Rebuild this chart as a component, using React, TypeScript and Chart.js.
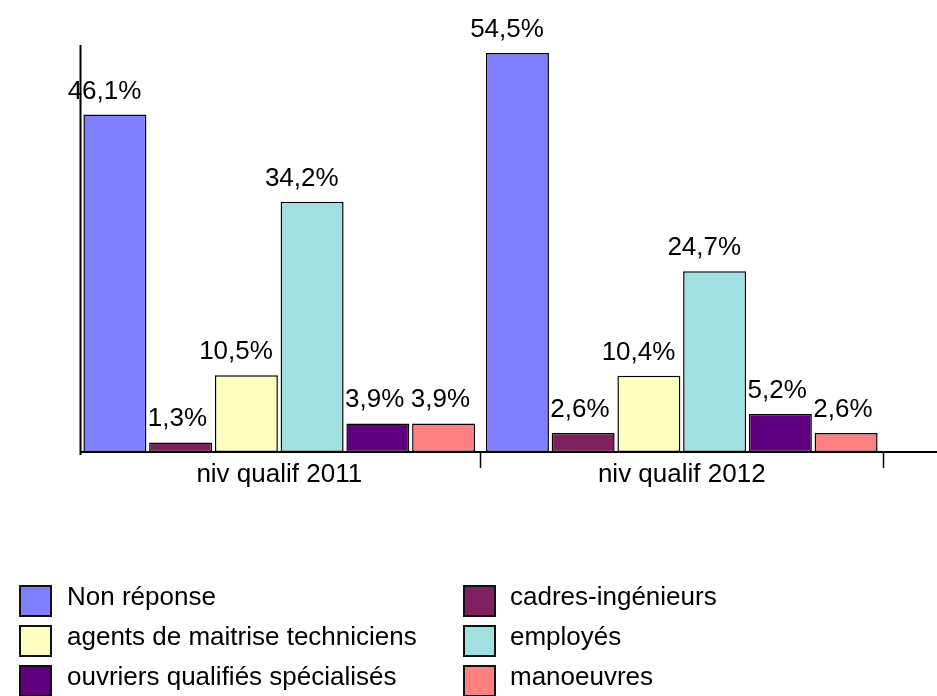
import React, { useEffect, useRef } from "react";
import { Chart, registerables } from "chart.js";

Chart.register(...registerables);

const categories = ["niv qualif 2011", "niv qualif 2012"];
const seriesNames = [
  "Non réponse",
  "cadres-ingénieurs",
  "agents de maitrise techniciens",
  "employés",
  "ouvriers qualifiés spécialisés",
  "manoeuvres",
];
const nonReponse = [46.1, 54.5];
const cadres = [1.3, 2.6];
const agents = [10.5, 10.4];
const employes = [34.2, 24.7];
const ouvriers = [3.9, 5.2];
const manoeuvres = [3.9, 2.6];
const seriesValues = [nonReponse, cadres, agents, employes, ouvriers, manoeuvres];
const seriesColors = ["#8080ff", "#802060", "#ffffc0", "#a0e0e0", "#600080", "#ff8080"];

const FONT = '"Liberation Sans", Arial, sans-serif';

const fmt = (v: number) => v.toFixed(1).replace(".", ",") + "%";

const extrasPlugin = {
  id: "extras",
  afterDatasetsDraw(chart: any) {
    const ctx = chart.ctx;
    const area = chart.chartArea;
    ctx.save();
    // axes lines
    ctx.strokeStyle = "#000";
    ctx.lineWidth = 2;
    ctx.beginPath();
    ctx.moveTo(80, area.bottom);
    ctx.lineTo(chart.width, area.bottom);
    ctx.moveTo(80.5, area.top);
    ctx.lineTo(80.5, area.bottom + 3);
    ctx.stroke();
    // value labels
    ctx.fillStyle = "#000";
    ctx.font = `26px ${FONT}`;
    ctx.textAlign = "right";
    ctx.textBaseline = "alphabetic";
    chart.data.datasets.forEach((ds: any, di: number) => {
      const meta = chart.getDatasetMeta(di);
      meta.data.forEach((bar: any, i: number) => {
        const v = ds.data[i];
        ctx.fillText(fmt(v), bar.x + bar.width / 2 - 5, bar.y - 16);
      });
    });
    // legend
    ctx.textAlign = "left";
    chart.data.datasets.forEach((ds: any, di: number) => {
      const col = di % 2;
      const row = Math.floor(di / 2);
      const bx = col === 0 ? 20 : 464;
      const by = 586 + row * 40;
      ctx.fillStyle = ds.backgroundColor;
      ctx.fillRect(bx, by, 31, 30);
      ctx.strokeStyle = "#111";
      ctx.lineWidth = 2;
      ctx.strokeRect(bx, by, 31, 30);
      ctx.fillStyle = "#000";
      ctx.fillText(ds.label, col === 0 ? 67 : 510, 605 + row * 40);
    });
    ctx.restore();
  },
};

export default function App() {
  const ref = useRef<HTMLCanvasElement>(null);
  useEffect(() => {
    document.body.style.margin = "0";
    const canvas = ref.current!;
    const chart = new Chart(canvas, {
      type: "bar",
      data: {
        labels: categories,
        datasets: seriesNames.map((name, i) => ({
          label: name,
          data: seriesValues[i],
          backgroundColor: seriesColors[i],
          borderColor: "#000",
          borderWidth: 1.5,
          borderSkipped: false,
          categoryPercentage: 0.98,
          barPercentage: 0.958,
        })),
      },
      options: {
        responsive: false,
        animation: false,
        devicePixelRatio: 1,
        layout: { padding: { left: 78, right: 54, top: 45, bottom: 0 } },
        plugins: { legend: { display: false }, tooltip: { enabled: false } },
        scales: {
          x: {
            afterFit: (s: any) => {
              s.height = 244;
            },
            grid: {
              drawOnChartArea: false,
              drawTicks: true,
              tickLength: 16,
              tickWidth: 1.5,
              tickColor: (c: any) => (c.index === 0 ? "rgba(0,0,0,0)" : "#000"),
              color: "#000",
            },
            border: { display: false },
            ticks: {
              color: "#000",
              font: { family: FONT, size: 26 },
              padding: -9,
            },
          },
          y: {
            min: 0,
            max: 55.6,
            afterFit: (s: any) => {
              s.width = 0;
            },
            grid: { display: false },
            ticks: { display: false },
            border: { display: false },
          },
        },
      },
      plugins: [extrasPlugin],
    });
    return () => chart.destroy();
  }, []);
  return (
    <div style={{ width: 937, height: 696 }}>
      <canvas ref={ref} width={937} height={696} style={{ display: "block" }} />
    </div>
  );
}
